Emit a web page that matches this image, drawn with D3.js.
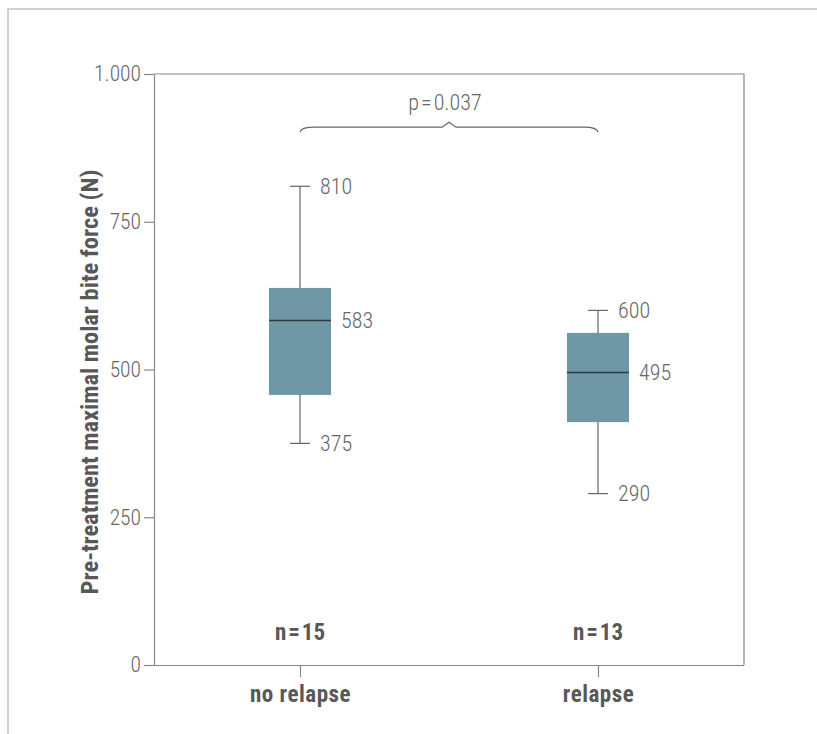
<!DOCTYPE html>
<html>
<head>
<meta charset="utf-8">
<script src="https://cdn.jsdelivr.net/npm/d3@7"></script>
<style>
  html, body { margin: 0; padding: 0; background: #fff; }
  svg { display: block; }
  .lt { font-family: 'Roboto Condensed', 'Liberation Sans Narrow', 'DejaVu Sans Condensed', Roboto, sans-serif; font-weight: 300; fill: #666; }
  .bd { font-family: 'Roboto Condensed', 'Liberation Sans Narrow', 'DejaVu Sans Condensed', Roboto, sans-serif; font-weight: 700; fill: #585858; }
</style>
</head>
<body>
<script>
// ---- data ----
const categories = ["no relapse", "relapse"];
const sampleSizes = [15, 13];
const whiskerMin = [375, 290];
const q1 = [457, 411];
const medians = [583, 495];
const q3 = [638, 562];
const whiskerMax = [810, 600];
const yTicks = [0, 250, 500, 750, 1000];
const pLabel = ["p", "=", "0.037"];
const yTitle = "Pre-treatment maximal molar bite force (N)";

(function () {
const W = 817, H = 734;
const svg = d3.select("body").append("svg").attr("width", W).attr("height", H);

// outer frame
svg.append("path")
  .attr("d", "M8,734 L8,9 L817,9")
  .attr("fill", "none").attr("stroke", "#c4c4c4").attr("stroke-width", 1.5);

const pL = 154, pR = 744, pT = 74, pB = 665;
const y = d3.scaleLinear().domain([0, 1000]).range([pB, pT]);
const x = d3.scalePoint().domain(categories).range([pL, pR]).padding(0.49);

const loc = d3.formatLocale({ decimal: ",", thousands: ".", grouping: [3], currency: ["", ""] });
const fmt = loc.format(",");

// plot frame top & right
svg.append("path")
  .attr("d", `M${pL},${y(1000)} L${pR},${y(1000)} L${pR},${y(0)}`)
  .attr("fill", "none").attr("stroke", "#888").attr("stroke-width", 1.2);

// y axis
const gy = svg.append("g").attr("transform", `translate(${pL},0)`)
  .call(d3.axisLeft(y).tickValues(yTicks).tickSize(10).tickSizeOuter(0).tickPadding(3).tickFormat(fmt));
gy.selectAll("path, line").attr("stroke", "#888").attr("stroke-width", 1.2);
gy.selectAll("text").attr("class", "lt").attr("font-size", 21.5).attr("fill", null).attr("font-family", null);

// x axis
const gx = svg.append("g").attr("transform", `translate(0,${pB})`)
  .call(d3.axisBottom(x).tickSize(12).tickSizeOuter(0).tickPadding(9));
gx.select("path.domain").attr("d", `M${pL},0.5H${pR}`);
gx.selectAll("path, line").attr("stroke", "#888").attr("stroke-width", 1.2);
gx.selectAll("text").attr("class", "bd").attr("font-size", 23).attr("letter-spacing", 0.5)
  .attr("fill", null).attr("font-family", null);

// y title
svg.append("text").attr("class", "bd").attr("font-size", 24.5)
  .attr("transform", `translate(98,382) rotate(-90)`)
  .attr("text-anchor", "middle").text(yTitle);

// boxes
const boxW = 62, capW = 20;
const data = categories.map((c, i) => ({
  c, n: sampleSizes[i], lo: whiskerMin[i], q1: q1[i], med: medians[i], q3: q3[i], hi: whiskerMax[i]
}));
const g = svg.append("g").selectAll("g").data(data).join("g");

g.append("line").attr("x1", d => x(d.c)).attr("x2", d => x(d.c))
  .attr("y1", d => y(d.hi)).attr("y2", d => y(d.lo)).attr("stroke", "#666").attr("stroke-width", 1.2);
g.append("line").attr("x1", d => x(d.c) - capW / 2).attr("x2", d => x(d.c) + capW / 2)
  .attr("y1", d => y(d.hi)).attr("y2", d => y(d.hi)).attr("stroke", "#666").attr("stroke-width", 1.2);
g.append("line").attr("x1", d => x(d.c) - capW / 2).attr("x2", d => x(d.c) + capW / 2)
  .attr("y1", d => y(d.lo)).attr("y2", d => y(d.lo)).attr("stroke", "#666").attr("stroke-width", 1.2);
g.append("rect").attr("x", d => x(d.c) - boxW / 2).attr("width", boxW)
  .attr("y", d => y(d.q3)).attr("height", d => y(d.q1) - y(d.q3)).attr("fill", "#6f97a5");
g.append("line").attr("x1", d => x(d.c) - boxW / 2).attr("x2", d => x(d.c) + boxW / 2)
  .attr("y1", d => y(d.med)).attr("y2", d => y(d.med)).attr("stroke", "#2f3a3e").attr("stroke-width", 1.5);

// value labels
g.append("text").attr("class", "lt").attr("font-size", 22).attr("dy", "0.35em")
  .attr("x", d => x(d.c) + capW / 2 + 10).attr("y", d => y(d.hi)).text(d => d.hi);
g.append("text").attr("class", "lt").attr("font-size", 22).attr("dy", "0.35em")
  .attr("x", d => x(d.c) + capW / 2 + 10).attr("y", d => y(d.lo)).text(d => d.lo);
g.append("text").attr("class", "lt").attr("font-size", 22).attr("dy", "0.35em")
  .attr("x", d => x(d.c) + boxW / 2 + 10).attr("y", d => y(d.med)).text(d => d.med);

// n labels (spaced "=")
const nt = g.append("text").attr("class", "bd").attr("font-size", 23).attr("text-anchor", "middle")
  .attr("x", d => x(d.c)).attr("y", 640);
nt.append("tspan").text("n");
nt.append("tspan").attr("dx", 2).text("=");
nt.append("tspan").attr("dx", 2).text(d => d.n);

// brace
const bx1 = x(categories[0]), bx2 = x(categories[1]);
const by = y(910), mid = (bx1 + bx2) / 2;
const p = d3.path();
p.moveTo(bx1, by + 5);
p.quadraticCurveTo(bx1 + 1, by, bx1 + 14, by);
p.lineTo(mid - 7, by);
p.lineTo(mid, by - 5);
p.lineTo(mid + 7, by);
p.lineTo(bx2 - 14, by);
p.quadraticCurveTo(bx2 - 1, by, bx2, by + 5);
svg.append("path").attr("d", p.toString()).attr("fill", "none").attr("stroke", "#666").attr("stroke-width", 1.2);

const pt = svg.append("text").attr("class", "lt").attr("font-size", 22).attr("text-anchor", "middle")
  .attr("x", mid - 4).attr("y", 110);
pt.append("tspan").text(pLabel[0]);
pt.append("tspan").attr("dx", 2).text(pLabel[1]);
pt.append("tspan").attr("dx", 2).text(pLabel[2]);
})();
</script>
</body>
</html>
